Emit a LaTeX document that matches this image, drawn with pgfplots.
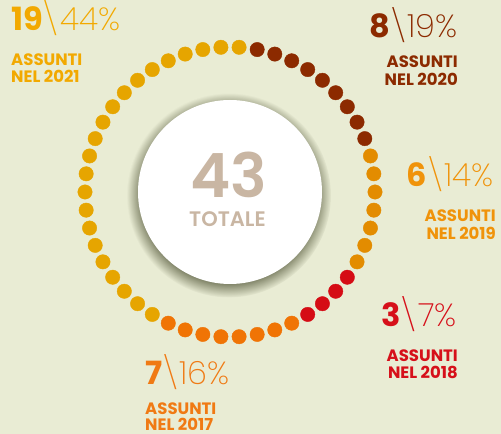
\documentclass[border=0pt]{standalone}
\usepackage{pgfplots}
\pgfplotsset{compat=1.18}
\usepackage{fontspec}
\setmainfont{Poppins}
\newfontfamily\lite{Poppins ExtraLight}
\newfontfamily\semi{Poppins SemiBold}
\usetikzlibrary{shadows}
\definecolor{bg}{HTML}{E9ECD4}
\definecolor{c21}{HTML}{E6A500}
\definecolor{c20}{HTML}{8C2A00}
\definecolor{c19}{HTML}{E38C00}
\definecolor{c18}{HTML}{D50C15}
\definecolor{c17}{HTML}{F07405}
\definecolor{t21}{HTML}{F2A900}
\definecolor{t20}{HTML}{8C2A00}
\definecolor{t19}{HTML}{F0930A}
\definecolor{t18}{HTML}{D6101A}
\definecolor{t17}{HTML}{F07A14}
\definecolor{tot}{HTML}{C9B6A3}
\definecolor{shc}{HTML}{4A4E30}
\begin{document}
\begin{tikzpicture}
\fill[bg] (0,0) rectangle (501pt,434pt);
\begin{axis}[at={(0,0)}, anchor=south west, scale only axis,
  width=501pt, height=434pt, xmin=-230, xmax=271, ymin=-242, ymax=192,
  hide axis, clip=false]
% centre disc
\fill[white, circular drop shadow={shadow xshift=-1pt, shadow yshift=-3pt, shadow scale=1.11, opacity=0.7, fill=shc}] (axis cs:0,0) circle[radius=92pt];
% dots: (angle, radius)
\addplot[only marks, mark=*, mark size=7.2pt, color=c21, data cs=polar] coordinates {
(86.4,145)(93.6,145)(100.8,145)(108,145)(115.2,145)(122.4,145)(129.6,145)(136.8,145)
(144,145)(151.2,145)(158.4,145)(165.6,145)(172.8,145)(180,145)(187.2,145)(194.4,145)
(201.6,145)(208.8,145)(216,145)(223.2,145)(230.4,145)(237.6,145)};
\addplot[only marks, mark=*, mark size=7.2pt, color=c20, data cs=polar] coordinates {
(79.2,145)(72,145)(64.8,145)(57.6,145)(50.4,145)(43.2,145)(36,145)(28.8,145)(21.6,145)};
\addplot[only marks, mark=*, mark size=7.2pt, color=c19, data cs=polar] coordinates {
(14.4,145)(7.2,145)(0,145)(-7.2,145)(-14.4,145)(-21.6,145)(-28.8,145)};
\addplot[only marks, mark=*, mark size=7.2pt, color=c18, data cs=polar] coordinates {
(-36,145)(-43.2,145)(-50.4,145)(-57.6,145)};
\addplot[only marks, mark=*, mark size=7.2pt, color=c17, data cs=polar] coordinates {
(-64.8,145)(-72,145)(-79.2,145)(-86.4,145)(-93.6,145)(-100.8,145)(-108,145)(-115.2,145)};
% centre text
\node[anchor=base, text=tot, font=\semi\fontsize{61}{61}\selectfont, inner sep=0pt] at (axis cs:-1.5,-6) {43};
\node[anchor=base, text=tot, font=\semi\fontsize{21}{21}\selectfont, inner sep=0pt] at (axis cs:-2.5,-35) {TOTALE};
% labels
\tikzset{big/.style={font=\fontsize{32}{32}\selectfont, inner sep=0pt},
  sm/.style={font=\bfseries\fontsize{16.5}{16.5}\selectfont, inner sep=0pt}}
% 2021
\node[big, anchor=base west, text=t21] at (axis cs:-219,161) {\textbf{19}{\lite\textbackslash44\%}};
\node[sm, anchor=base west, text=t21] at (axis cs:-219,126) {ASSUNTI};
\node[sm, anchor=base west, text=t21] at (axis cs:-219,109) {NEL 2021};
% 2020
\node[big, anchor=base east, text=t20] at (axis cs:228,154) {\textbf{8}{\lite\textbackslash19\%}};
\node[sm, anchor=base east, text=t20] at (axis cs:228,124) {ASSUNTI};
\node[sm, anchor=base east, text=t20] at (axis cs:228,106) {NEL 2020};
% 2019
\node[big, anchor=base east, text=t19] at (axis cs:264,5) {\textbf{6}{\lite\textbackslash14\%}};
\node[sm, anchor=base east, text=t19] at (axis cs:266,-30) {ASSUNTI};
\node[sm, anchor=base east, text=t19] at (axis cs:266,-48) {NEL 2019};
% 2018
\node[big, anchor=base east, text=t18] at (axis cs:227,-135) {\textbf{3}{\lite\textbackslash7\%}};
\node[sm, anchor=base east, text=t18] at (axis cs:228,-170) {ASSUNTI};
\node[sm, anchor=base east, text=t18] at (axis cs:228,-187) {NEL 2018};
% 2017
\node[big, anchor=base west, text=t17] at (axis cs:-85,-193) {\textbf{7}{\lite\textbackslash16\%}};
\node[sm, anchor=base west, text=t17] at (axis cs:-85,-223) {ASSUNTI};
\node[sm, anchor=base west, text=t17] at (axis cs:-85,-239) {NEL 2017};
\end{axis}
\end{tikzpicture}
\end{document}
